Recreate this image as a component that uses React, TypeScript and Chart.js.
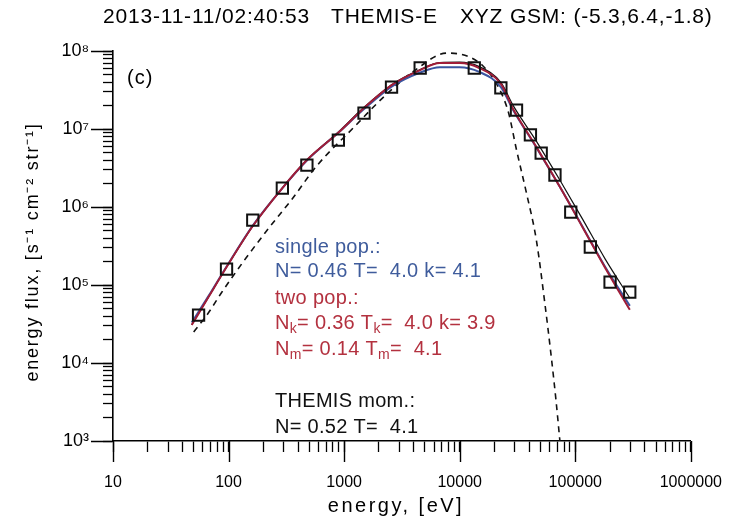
import React, { useEffect, useRef } from 'react';
import { Chart, registerables } from 'chart.js';

Chart.register(...registerables);

// ---------- data ----------
const obsEnergy = [55, 96, 162, 292, 476, 891, 1486, 2570, 4550, 13370, 22700, 31000, 40900, 50700, 66700, 91400, 135000, 200000, 296000];
const obsFlux = [4.1e4, 1.6e5, 6.8e5, 1.75e6, 3.45e6, 7.2e6, 1.6e7, 3.45e7, 6.05e7, 6.05e7, 3.36e7, 1.75e7, 8.4e6, 4.9e6, 2.57e6, 8.6e5, 3.07e5, 1.09e5, 8.1e4];

const fitEnergy = [48, 67, 95, 162, 292, 476, 893, 1486, 2574, 4550, 6730, 9960, 14750, 22700, 29300, 46000, 73700, 115600, 181600, 296500];
const twoPopFlux = [3.07e4, 7.0e4, 1.65e5, 5.7e5, 1.75e6, 4.0e6, 9.0e6, 1.86e7, 3.66e7, 5.7e7, 7.0e7, 7.0e7, 6.05e7, 3.78e7, 1.75e7, 5.9e6, 1.8e6, 5.5e5, 1.65e5, 4.8e4];
const singlePopFlux = [3.3e4, 7.2e4, 1.68e5, 5.8e5, 1.75e6, 3.95e6, 9.0e6, 1.8e7, 3.5e7, 5.3e7, 6.2e7, 6.2e7, 5.4e7, 3.45e7, 1.7e7, 5.8e6, 1.8e6, 5.6e5, 1.7e5, 5.4e4];
const momentFlux = [3.1e4, 7.0e4, 1.65e5, 5.7e5, 1.75e6, 4.0e6, 9.2e6, 1.9e7, 3.7e7, 5.8e7, 7.1e7, 7.2e7, 6.3e7, 3.95e7, 1.95e7, 7.0e6, 2.2e6, 7.0e5, 2.15e5, 6.8e4];

const maxwEnergy = [49.9, 67, 86.5, 141, 217, 355, 579, 1197, 2290, 4120, 7730, 12100, 16300, 21800, 26500, 31000, 37800, 46000, 54800, 61700, 68000, 73600];
const maxwFlux = [2.5e4, 4.4e4, 7.9e4, 2.2e5, 5.1e5, 1.27e6, 3.36e6, 1.03e7, 2.73e7, 5.7e7, 9.4e7, 8.4e7, 6.2e7, 3.36e7, 1.6e7, 5.4e6, 1.51e6, 3.8e5, 5.5e4, 1.27e4, 3.4e3, 1.0e3];

const xMajor = [10, 100, 1000, 10000, 100000, 1000000];
const xTickLabels = ['10', '100', '1000', '10000', '100000', '1000000'];
const yMajor = [1e3, 1e4, 1e5, 1e6, 1e7, 1e8];
const yTickLabels = ['10³', '10⁴', '10⁵', '10⁶', '10⁷', '10⁸'];

const titleParts = ['2013-11-11/02:40:53', 'THEMIS-E', 'XYZ GSM: (-5.3,6.4,-1.8)'];

const FONT = '"Liberation Sans", Arial, Helvetica, sans-serif';
const BLUE = '#3a55a0';
const RED = '#a01d38';
const BLUE_TXT = '#3f5c9c';
const RED_TXT = '#b3313f';

const toPts = (xs: number[], ys: number[]) => xs.map((x, i) => ({ x, y: ys[i] }));

const buildLogTicks = (majors: number[]) => {
  const t: { value: number; major: boolean }[] = [];
  for (let i = 0; i < majors.length - 1; i++) {
    for (let m = 1; m <= 9; m++) t.push({ value: majors[i] * m, major: m === 1 });
  }
  t.push({ value: majors[majors.length - 1], major: true });
  return t;
};

const labelFor = (v: number, majors: number[], labels: string[]) => {
  for (let i = 0; i < majors.length; i++) {
    if (Math.abs(v - majors[i]) / majors[i] < 1e-6) return labels[i];
  }
  return '';
};

type Part = [string, boolean];
function drawRich(ctx: CanvasRenderingContext2D, x: number, y: number, parts: Part[], size: number, color: string) {
  let cx = x;
  ctx.fillStyle = color;
  for (const [t, sub] of parts) {
    const fs = sub ? Math.round(size * 0.68) : size;
    ctx.font = `${fs}px ${FONT}`;
    ctx.fillText(t, cx, sub ? y + size * 0.32 : y);
    cx += ctx.measureText(t).width;
  }
}

const decorPlugin = {
  id: 'decor',
  afterDraw(chart: any) {
    const { ctx, chartArea, scales } = chart;
    ctx.save();
    // long major ticks
    ctx.strokeStyle = '#000';
    ctx.lineWidth = 1.4;
    ctx.beginPath();
    xMajor.forEach((v) => {
      const px = Math.round(scales.x.getPixelForValue(v)) + 0.5;
      ctx.moveTo(px, chartArea.bottom);
      ctx.lineTo(px, chartArea.bottom + 21);
    });
    yMajor.forEach((v) => {
      const py = Math.round(scales.y.getPixelForValue(v)) + 0.5;
      ctx.moveTo(chartArea.left, py);
      ctx.lineTo(chartArea.left - 22, py);
    });
    ctx.stroke();

    ctx.textBaseline = 'middle';
    ctx.textAlign = 'left';
    // title
    (ctx as any).letterSpacing = '0.8px';
    ctx.fillStyle = '#000';
    ctx.font = `21px ${FONT}`;
    ctx.fillText(titleParts[0], 103, 17);
    ctx.fillText(titleParts[1], 331, 17);
    ctx.fillText(titleParts[2], 460, 17);

    // panel label
    (ctx as any).letterSpacing = '1px';
    ctx.font = `20px ${FONT}`;
    ctx.fillText('(c)', 127, 78);

    // annotations
    (ctx as any).letterSpacing = '0.3px';
    drawRich(ctx, 275, 247, [['single pop.:', false]], 20, BLUE_TXT);
    drawRich(ctx, 275, 271, [['N= 0.46 T=  4.0 k= 4.1', false]], 20, BLUE_TXT);
    drawRich(ctx, 275, 298, [['two pop.:', false]], 20, RED_TXT);
    drawRich(ctx, 275, 323, [['N', false], ['k', true], ['= 0.36 T', false], ['k', true], ['=  4.0 k= 3.9', false]], 20, RED_TXT);
    drawRich(ctx, 275, 349, [['N', false], ['m', true], ['= 0.14 T', false], ['m', true], ['=  4.1', false]], 20, RED_TXT);
    drawRich(ctx, 275, 401, [['THEMIS mom.:', false]], 20, '#111');
    drawRich(ctx, 275, 427, [['N= 0.52 T=  4.1', false]], 20, '#111');

    // axis titles
    ctx.fillStyle = '#000';
    (ctx as any).letterSpacing = '2.5px';
    ctx.font = `20px ${FONT}`;
    ctx.textAlign = 'center';
    ctx.fillText('energy, [eV]', 396, 506);

    ctx.translate(33, 252);
    ctx.rotate(-Math.PI / 2);
    (ctx as any).letterSpacing = '1.8px';
    ctx.font = `18px ${FONT}`;
    ctx.fillText('energy flux, [s⁻¹ cm⁻² str⁻¹]', 0, 0);
    ctx.restore();
  },
};

export default function App() {
  const ref = useRef<HTMLCanvasElement | null>(null);

  useEffect(() => {
    if (!ref.current) return;
    const chart = new Chart(ref.current, {
      type: 'line',
      data: {
        datasets: [
          {
            label: 'observed',
            data: toPts(obsEnergy, obsFlux),
            showLine: false,
            pointStyle: 'rect',
            pointRadius: 8,
            pointBorderWidth: 2,
            pointBorderColor: '#111',
            pointBackgroundColor: 'rgba(0,0,0,0)',
            order: 0,
          },
          {
            label: 'two pop',
            data: toPts(fitEnergy, twoPopFlux),
            borderColor: RED,
            borderWidth: 2,
            pointRadius: 0,
            cubicInterpolationMode: 'monotone',
            order: 1,
          },
          {
            label: 'single pop',
            data: toPts(fitEnergy, singlePopFlux),
            borderColor: BLUE,
            borderWidth: 2,
            pointRadius: 0,
            cubicInterpolationMode: 'monotone',
            order: 2,
          },
          {
            label: 'moments',
            data: toPts(fitEnergy, momentFlux),
            borderColor: '#111',
            borderWidth: 1.2,
            pointRadius: 0,
            cubicInterpolationMode: 'monotone',
            order: 3,
          },
          {
            label: 'maxwellian',
            data: toPts(maxwEnergy, maxwFlux),
            borderColor: '#111',
            borderWidth: 1.6,
            borderDash: [6, 5],
            pointRadius: 0,
            cubicInterpolationMode: 'monotone',
            order: 4,
          },
        ],
      },
      options: {
        animation: false,
        responsive: false,
        devicePixelRatio: 1,
        layout: { padding: { top: 51, right: 43, left: 0, bottom: 0 } },
        plugins: {
          legend: { display: false },
          tooltip: { enabled: false },
          title: { display: false },
        },
        scales: {
          x: {
            type: 'logarithmic',
            position: 'bottom',
            min: 10,
            max: 1000000,
            afterBuildTicks: (scale: any) => {
              scale.ticks = buildLogTicks(xMajor);
            },
            afterFit: (scale: any) => {
              scale.height = 81;
            },
            grid: { display: true, drawOnChartArea: false, drawTicks: true, tickLength: 11, tickColor: '#000', tickWidth: 1.3 },
            border: { display: true, color: '#000', width: 1.6 },
            ticks: {
              autoSkip: false,
              maxRotation: 0,
              minRotation: 0,
              padding: 21,
              color: '#000',
              font: { family: FONT, size: 16 },
              callback: (v: any) => labelFor(Number(v), xMajor, xTickLabels),
            },
          },
          y: {
            type: 'logarithmic',
            position: 'left',
            min: 1e3,
            max: 1e8,
            afterBuildTicks: (scale: any) => {
              scale.ticks = buildLogTicks(yMajor);
            },
            afterFit: (scale: any) => {
              scale.width = 113;
            },
            grid: { display: true, drawOnChartArea: false, drawTicks: true, tickLength: 10, tickColor: '#000', tickWidth: 1.3 },
            border: { display: true, color: '#000', width: 1.6 },
            ticks: {
              autoSkip: false,
              padding: 14,
              color: '#000',
              font: { family: FONT, size: 18 },
              callback: (v: any) => labelFor(Number(v), yMajor, yTickLabels),
            },
          },
        },
      },
      plugins: [decorPlugin],
    } as any);
    return () => chart.destroy();
  }, []);

  return (
    <div style={{ position: 'fixed', left: 0, top: 0, width: 743, height: 522, background: '#fff' }}>
      <canvas ref={ref} width={743} height={522} style={{ display: 'block' }} />
    </div>
  );
}
